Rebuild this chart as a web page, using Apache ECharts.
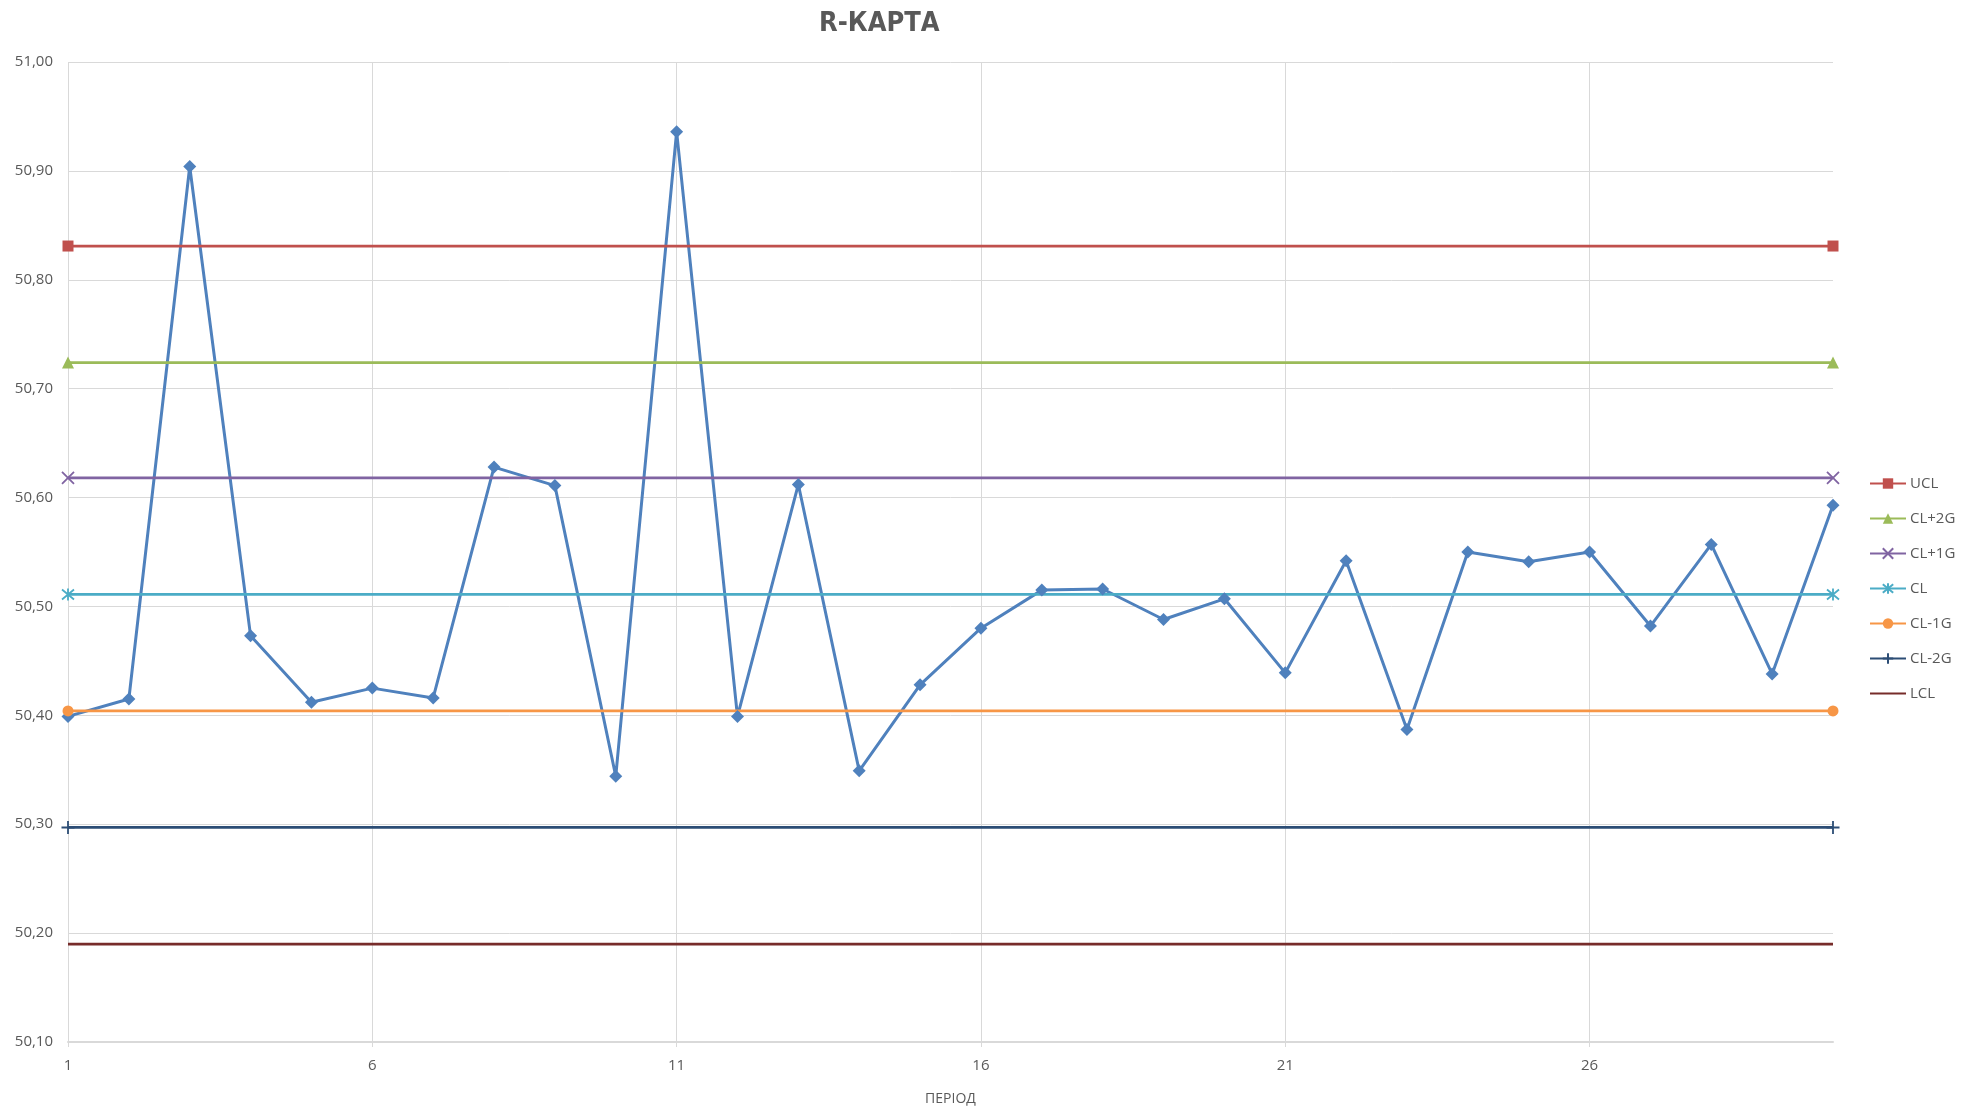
<!DOCTYPE html>
<html>
<head>
<meta charset="utf-8">
<title>R-КАРТА</title>
<script src="https://cdn.jsdelivr.net/npm/echarts@6/dist/echarts.min.js"></script>
<style>
  html, body { margin: 0; padding: 0; background: #ffffff; }
  #chart { width: 1975px; height: 1111px; }
</style>
</head>
<body>
<div id="chart"></div>
<script>
// Sample periods (x categories)
const periods = ['1','2','3','4','5','6','7','8','9','10','11','12','13','14','15',
                 '16','17','18','19','20','21','22','23','24','25','26','27','28','29','30'];

// Measured range per period
const rValues = [50.399, 50.415, 50.904, 50.473, 50.412, 50.425, 50.416, 50.628, 50.611, 50.344,
                 50.936, 50.399, 50.612, 50.349, 50.428, 50.480, 50.515, 50.516, 50.488, 50.507,
                 50.439, 50.542, 50.387, 50.550, 50.541, 50.550, 50.482, 50.557, 50.438, 50.593];

// Control limits
const limitNames  = ['UCL', 'CL+2G', 'CL+1G', 'CL', 'CL-1G', 'CL-2G', 'LCL'];
const limitValues = [50.831, 50.724, 50.618, 50.511, 50.404, 50.297, 50.190];

// Value axis range
const yMin = 50.1;
const yMax = 51.0;
const yStep = 0.1;

const TEXT = '#595959';
const GRID = '#d9d9d9';
const FONT = '"Open Sans", "DejaVu Sans", sans-serif';

const limitStyle = {
  'UCL':   { color: '#C0504D', symbol: 'rect', size: 11 },
  'CL+2G': { color: '#9BBB59', symbol: 'triangle', size: 12 },
  'CL+1G': { color: '#8064A2', symbol: 'path://M0,0L10,10M10,0L0,10', size: 12, stroke: true },
  'CL':    { color: '#4BACC6', symbol: 'path://M0,0L10,10M10,0L0,10M5,-1L5,11', size: 12, stroke: true },
  'CL-1G': { color: '#F79646', symbol: 'circle', size: 11 },
  'CL-2G': { color: '#2C4D75', symbol: 'path://M5,0L5,10M0,5L10,5', size: 13, stroke: true },
  'LCL':   { color: '#772C2A', symbol: 'none', size: 0, plain: true }
};

const last = periods.length - 1;

// Horizontal limit lines: markers only at the two ends
const limitSeries = limitNames.map((name, k) => {
  const st = limitStyle[name];
  let itemStyle = { color: st.color };
  if (st.stroke) itemStyle = { color: st.color, borderColor: st.color, borderWidth: 1.8 };
  if (st.plain) itemStyle = { color: 'rgba(0,0,0,0)' };
  return {
    name: name,
    type: 'line',
    symbol: st.symbol,
    symbolSize: st.size,
    lineStyle: { color: st.color, width: 2.75 },
    itemStyle: itemStyle,
    data: periods.map((p, i) => ({
      value: limitValues[k],
      symbol: (i === 0 || i === last) ? st.symbol : 'none'
    })),
    silent: true
  };
});

const chart = echarts.init(document.getElementById('chart'));

chart.setOption({
  animation: false,
  backgroundColor: '#ffffff',
  title: {
    text: 'R-КАРТА',
    left: 814,
    top: 5,
    textStyle: {
      color: TEXT,
      fontSize: 27,
      fontWeight: 'bold',
      fontFamily: '"DejaVu Sans Condensed", "Liberation Sans Narrow", "DejaVu Sans", sans-serif'
    }
  },
  legend: {
    orient: 'vertical',
    left: 1869,
    top: 476,
    padding: 0,
    itemWidth: 36,
    itemHeight: 13,
    itemGap: 20,
    data: limitNames,
    textStyle: { color: TEXT, fontSize: 15, fontFamily: FONT, padding: [0, 0, 0, -1] }
  },
  grid: { left: 68, right: 142, top: 62, bottom: 67 },
  xAxis: {
    type: 'category',
    data: periods,
    boundaryGap: false,
    name: 'ПЕРІОД',
    nameLocation: 'middle',
    nameGap: 50,
    nameTextStyle: { color: TEXT, fontSize: 14, fontFamily: FONT },
    axisLine: { lineStyle: { color: GRID, width: 2 } },
    axisTick: { show: true, interval: 4, length: 5, lineStyle: { color: GRID } },
    axisLabel: { interval: 4, color: TEXT, fontSize: 15, fontFamily: FONT, margin: 16 },
    splitLine: { show: true, interval: 4, lineStyle: { color: GRID, width: 1 } }
  },
  yAxis: {
    type: 'value',
    min: yMin,
    max: yMax,
    interval: yStep,
    axisLine: { show: false },
    axisTick: { show: false },
    axisLabel: {
      color: TEXT,
      fontSize: 15,
      fontFamily: FONT,
      margin: 15,
      formatter: v => v.toFixed(2).replace('.', ',')
    },
    splitLine: { lineStyle: { color: GRID, width: 1 } }
  },
  series: [
    {
      name: 'R',
      type: 'line',
      symbol: 'diamond',
      symbolSize: 13,
      lineStyle: { color: '#4F81BD', width: 3 },
      itemStyle: { color: '#4F81BD' },
      data: rValues
    }
  ].concat(limitSeries)
});
</script>
</body>
</html>
